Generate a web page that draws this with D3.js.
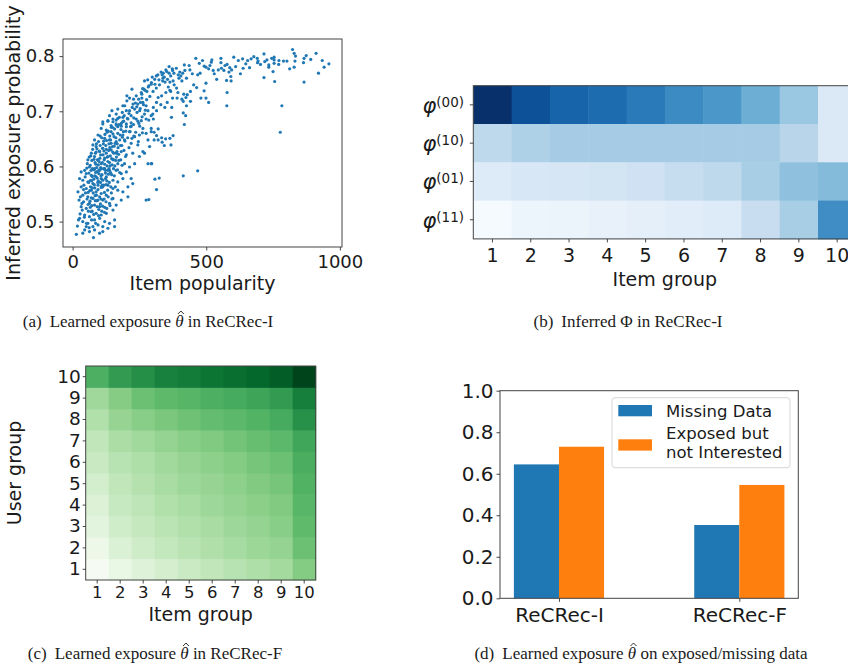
<!DOCTYPE html>
<html>
<head>
<meta charset="utf-8">
<script src="https://cdn.jsdelivr.net/npm/d3@7"></script>
<style>
  body { margin: 0; background: #fff; }
  svg text { font-family: "DejaVu Sans", sans-serif; fill: #1a1a1a; }
  svg text.caption { font-family: "Liberation Serif", serif; font-size: 17px; }
</style>
</head>
<body>
<svg id="fig" width="848" height="669"></svg>
<script>
// (a) item popularity vs inferred exposure probability
const popExposure = [
  [678,.799],[691,.796],[694,.791],[692,.788],[703,.785],[716,.804],[719,.790],[727,.793],[734,.784],[734,.780],
  [745,.796],[754,.798],[754,.793],[754,.787],[772,.792],[771,.785],[789,.791],[802,.791],[750,.772],[716,.761],
  [756,.754],[823,.812],[829,.805],[834,.800],[832,.791],[829,.780],[812,.777],[864,.788],[866,.796],[874,.801],
  [891,.794],[911,.805],[934,.792],[941,.780],[959,.786],[920,.769],[866,.753],[783,.710],[777,.662],
  [648,.786],[655,.792],[662,.779],[668,.795],
  [461,.796],[474,.787],[486,.792],[492,.782],[499,.780],[509,.777],[514,.783],[519,.789],[521,.793],[526,.774],
  [545,.775],[555,.796],[555,.788],[557,.778],[566,.774],[570,.783],[578,.785],[588,.779],[585,.771],[595,.775],
  [603,.798],[620,.792],[636,.795],[638,.778],[576,.756],[592,.763],[593,.755],[539,.758],[499,.751],[477,.769],
  [468,.766],[453,.748],[464,.743],[492,.737],[480,.724],[499,.724],[509,.716],[578,.734],[577,.710],[441,.736],
  [441,.718],[424,.725],[409,.722],[416,.731],[429,.730],[420,.774],[418,.784],[412,.769],[401,.771],[395,.766],
  [405,.764],[398,.760],[409,.755],[426,.760],[439,.775],[374,.774],[361,.769],[339,.769],[335,.766],[313,.764],
  [323,.757],[308,.749],[338,.760],[346,.753],[364,.753],[376,.755],[380,.748],[358,.744],[367,.736],[389,.742],
  [394,.734],[391,.724],[374,.724],[414,.718],[426,.710],[364,.738],[349,.734],[333,.728],[320,.725],[314,.716],
  [302,.707],[345,.707],[354,.716],[371,.707],[314,.701],[302,.686],[370,.689],[414,.697],[423,.692],[418,.676],
  [294,.669],[320,.668],[305,.662],[314,.656],[333,.652],[348,.650],[364,.651],[376,.656],[305,.648],[320,.648],
  [335,.644],[343,.638],[368,.639],[296,.605],[468,.592],[414,.583],[324,.579],[308,.577],[314,.558],
  [269,.755],[285,.746],[294,.749],[267,.740],[257,.734],[278,.736],[222,.740],[238,.728],[259,.724],[228,.722],
  [213,.724],[203,.719],[195,.710],[226,.713],[244,.713],[263,.716],[275,.710],[282,.701],[269,.695],[251,.701],
  [232,.704],[213,.701],[201,.701],[186,.698],[169,.704],[163,.695],[147,.701],[138,.692],[151,.686],[169,.687],
  [188,.689],[207,.686],[219,.692],[238,.686],[257,.683],[275,.686],[294,.692],[113,.677],[132,.683],[144,.674],
  [163,.677],[182,.673],[201,.677],[219,.673],[251,.673],[188,.710],[203,.728],
  [113,.681],[132,.682],[151,.681],[163,.675],[182,.678],[201,.672],[219,.679],[244,.682],[263,.669],[275,.660],
  [107,.669],[126,.666],[144,.663],[169,.660],[188,.657],[213,.663],[232,.654],[250,.657],[282,.648],[95,.657],
  [82,.648],[120,.651],[138,.648],[163,.645],[194,.648],[219,.642],[244,.639],[263,.627],[294,.663],[288,.636],
  [76,.639],[88,.636],[101,.627],[113,.633],[126,.624],[144,.630],[163,.624],[182,.627],[201,.621],[225,.624],
  [250,.618],[269,.624],[282,.605],[294,.605],[70,.624],[82,.618],[95,.612],[107,.605],[120,.615],[132,.609],
  [151,.612],[169,.605],[194,.605],[213,.599],[232,.605],[57,.612],[63,.599],[82,.596],[101,.593],[120,.596],
  [138,.593],[163,.593],[182,.587],[201,.590],[219,.578],[225,.569],[45,.593],[32,.590],[51,.587],[70,.584],
  [88,.581],[107,.578],[126,.581],[151,.575],[169,.572],[188,.578],[207,.563],
  [26,.578],[38,.575],[57,.572],[76,.569],[95,.566],[113,.563],[132,.566],[151,.560],[169,.557],[188,.554],
  [207,.545],[32,.563],[51,.560],[70,.557],[88,.554],[107,.551],[126,.548],[151,.542],[20,.554],[38,.548],
  [57,.545],[76,.542],[95,.539],[113,.539],[138,.533],[182,.539],[163,.530],[24,.539],[41,.536],[63,.533],
  [82,.530],[101,.527],[120,.526],[275,.539],[285,.540],
  [32,.527],[51,.524],[70,.518],[88,.515],[107,.512],[126,.515],[151,.521],[157,.503],[45,.512],[63,.509],
  [82,.503],[101,.506],[120,.500],[138,.497],[26,.506],[38,.500],[57,.497],[76,.491],[95,.494],[113,.491],
  [132,.488],[157,.491],[51,.491],[45,.485],[38,.479],[63,.482],[14,.477],[82,.485],[101,.479],[113,.482],[78,.471],
  [66,.602],[72,.611],[78,.594],[84,.607],[90,.598],[96,.603],[102,.615],[108,.596],[114,.621],[120,.604],
  [126,.631],[132,.618],[138,.607],[144,.642],[150,.626],[156,.637],[60,.571],[67,.563],[73,.582],[79,.577],
  [86,.589],[92,.579],[98,.587],[104,.571],[110,.585],[116,.566],[122,.593],[128,.574],[134,.586],[140,.601],
  [146,.585],[152,.613],[158,.601],[164,.617],[170,.634],[176,.648],[64,.556],[70,.543],[77,.552],[83,.561],
  [89,.548],[95,.558],[101,.545],[107,.562],[113,.575],[119,.553],[125,.567],[131,.557],[137,.571],[143,.563],
  [85,.624],[91,.632],[97,.645],[103,.638],[109,.652],[115,.641],[121,.658],[127,.647],[133,.664],[139,.655],
  [145,.671],[151,.659],[157,.668],[163,.684],[169,.672],[175,.689],[181,.667],[187,.681],[193,.692],[199,.664],
  [205,.687],[211,.696],[217,.672],[223,.707],[229,.688],[235,.715],[241,.698],[247,.722],[253,.705],[259,.731],
  [265,.712],[271,.738],[277,.721],[283,.744],[289,.727],[295,.752],[301,.736],[307,.758],[313,.742],[319,.766],
  [325,.748],[331,.771],[337,.755],[343,.762],[349,.775],[355,.758],[361,.781],[367,.764],[373,.777],[379,.769],
  [42,.566],[47,.581],[53,.597],[58,.553],[61,.588],[68,.619],[71,.574],[74,.596],[80,.613],[81,.567],
  [87,.604],[88,.626],[93,.591],[94,.571],[99,.609],[100,.628],[105,.598],[106,.583],[111,.607],[112,.633],
  [117,.596],[118,.612],[123,.588],[124,.638],[129,.601],[130,.617],[135,.629],[136,.596],[141,.619],[142,.648],
  [148,.603],[149,.636],[154,.624],[155,.654],[161,.611],[167,.641],[172,.622],[178,.657],[184,.638],[190,.663],
  [196,.646],[58,.531],[66,.526],[73,.519],[85,.538],[92,.527],[104,.532],[118,.541],[128,.524],[36,.521],
  [29,.545],[44,.508],[52,.497],[86,.497],[97,.511],[62,.489],[71,.503],[109,.519],[145,.552],[160,.563],
  [176,.589],[185,.602],[198,.618],[211,.634],[222,.651],[236,.662],[248,.678],[260,.690],[272,.702],
  [55,.605],[62,.617],[69,.593],[75,.631],[83,.583],[89,.641],[96,.574],[103,.655],[110,.566],[116,.646],
  [123,.578],[129,.662],[136,.641],[142,.589],[149,.671],[156,.583],[162,.652],[168,.594],[174,.676],[180,.612],
  [186,.653],[192,.629],[48,.552],[54,.541],[59,.519],[65,.537],[72,.529],[79,.513],[84,.547],[91,.538],
  [98,.522],[106,.541],[112,.528],[119,.517],[125,.536],[133,.545],[140,.529],[147,.541],[35,.533],[41,.558],
  [28,.514],[18,.492],[22,.503],[67,.575],[74,.561],[81,.594],[93,.612],[99,.594],[105,.621],[117,.628],
  [131,.593],[139,.634],[146,.614],[153,.596],[159,.642],[166,.627],[173,.611],[179,.638],[191,.682],[206,.652],
  [215,.663],[228,.676],[240,.708],[254,.716],[229,.655],[246,.645],[261,.661],[285,.684],[300,.695],[330,.712],
  [262,.741],[281,.757],[298,.762],[352,.772],[388,.778],[436,.783],[448,.768],[530,.768],[610,.781],[628,.768]
];
const popTicks = [0, 500, 1000];
const probTicks = [0.5, 0.6, 0.7, 0.8];

// (b) inferred Phi, rows phi(00), phi(10), phi(01), phi(11), columns item group 1..10
const itemGroups = [1, 2, 3, 4, 5, 6, 7, 8, 9, 10];
const phiLabels = ['00', '10', '01', '11'];
const phiValues = [
  [1.00, 0.87, 0.80, 0.77, 0.72, 0.65, 0.60, 0.50, 0.38, 0.14],
  [0.27, 0.32, 0.35, 0.35, 0.35, 0.35, 0.35, 0.35, 0.29, 0.14],
  [0.13, 0.16, 0.165, 0.18, 0.20, 0.24, 0.27, 0.34, 0.41, 0.44],
  [0.01, 0.05, 0.06, 0.075, 0.09, 0.11, 0.13, 0.23, 0.34, 0.64]
];

// (c) learned exposure in ReCRec-F, rows user group 1..10, columns item group 1..10
const userGroups = [1, 2, 3, 4, 5, 6, 7, 8, 9, 10];
const exposureGrid = [
  [0.015, 0.09, 0.15, 0.195, 0.235, 0.27, 0.30, 0.33, 0.36, 0.455],
  [0.07, 0.165, 0.215, 0.255, 0.295, 0.325, 0.355, 0.385, 0.41, 0.52],
  [0.125, 0.21, 0.25, 0.29, 0.32, 0.35, 0.38, 0.41, 0.44, 0.55],
  [0.16, 0.245, 0.28, 0.32, 0.35, 0.38, 0.41, 0.435, 0.46, 0.57],
  [0.20, 0.27, 0.31, 0.35, 0.38, 0.40, 0.43, 0.46, 0.49, 0.59],
  [0.24, 0.30, 0.33, 0.37, 0.40, 0.43, 0.455, 0.49, 0.52, 0.61],
  [0.27, 0.34, 0.37, 0.41, 0.44, 0.465, 0.50, 0.53, 0.56, 0.64],
  [0.32, 0.40, 0.44, 0.48, 0.51, 0.54, 0.56, 0.585, 0.62, 0.73],
  [0.375, 0.45, 0.52, 0.555, 0.575, 0.60, 0.62, 0.65, 0.69, 0.80],
  [0.60, 0.69, 0.74, 0.79, 0.81, 0.84, 0.86, 0.89, 0.92, 1.00]
];

// (d) learned exposure on exposed / missing data
const models = ['ReCRec-I', 'ReCRec-F'];
const missingData = [0.645, 0.353];
const exposedNotInterested = [0.730, 0.546];
const barTicks = [0, 0.2, 0.4, 0.6, 0.8, 1.0];
const seriesNames = ['Missing Data', ['Exposed but', 'not Interested']];
const seriesColors = ['#1f77b4', '#ff7f0e'];

const svg = d3.select('#fig');
svg.append('rect').attr('width', 848).attr('height', 669).attr('fill', '#fff');

function styleAxis(g, size) {
  g.select('.domain').remove();
  g.selectAll('.tick line').attr('stroke', '#333').attr('stroke-width', 0.9);
  g.selectAll('.tick text').style('font-size', size + 'px');
}

function frame(x0, y0, x1, y1) {
  svg.append('rect')
    .attr('x', x0).attr('y', y0)
    .attr('width', x1 - x0).attr('height', y1 - y0)
    .attr('fill', 'none').attr('stroke', '#444').attr('stroke-width', 1);
}

// ---------- (a) scatter ----------
const A = { left: 63, right: 342, top: 39, bottom: 247 };
const xA = d3.scaleLinear().domain([-36, 1008]).range([A.left, A.right]);
const yA = d3.scaleLinear().domain([0.454, 0.831]).range([A.bottom, A.top]);

svg.append('g')
  .selectAll('circle')
  .data(popExposure)
  .join('circle')
  .attr('cx', (d) => xA(d[0]))
  .attr('cy', (d) => yA(d[1]))
  .attr('r', 1.6)
  .attr('fill', '#1f77b4');

frame(A.left, A.top, A.right, A.bottom);

svg.append('g')
  .attr('transform', `translate(0,${A.bottom})`)
  .call(d3.axisBottom(xA).tickValues(popTicks).tickFormat(d3.format('d')).tickSize(3.5).tickPadding(4.5))
  .call((g) => styleAxis(g, 18));

svg.append('g')
  .attr('transform', `translate(${A.left},0)`)
  .call(d3.axisLeft(yA).tickValues(probTicks).tickFormat(d3.format('.1f')).tickSize(3.5).tickPadding(5))
  .call((g) => styleAxis(g, 18));

svg.append('text')
  .attr('x', (A.left + A.right) / 2).attr('y', 289.5)
  .attr('text-anchor', 'middle').style('font-size', '19px')
  .text('Item popularity');

svg.append('text')
  .attr('transform', `translate(20,${(A.top + A.bottom) / 2}) rotate(-90)`)
  .attr('text-anchor', 'middle').style('font-size', '19px')
  .text('Inferred exposure probability');

// ---------- (b) Phi heatmap ----------
const B = { left: 473.3, top: 85.7, cell: 38.3 };
const xB = d3.scaleBand().domain(itemGroups).range([B.left, B.left + B.cell * 10]);
const yB = d3.scaleBand().domain(phiLabels).range([B.top, B.top + B.cell * 4]);

phiValues.forEach((row, r) => {
  svg.append('g')
    .selectAll('rect')
    .data(row)
    .join('rect')
    .attr('x', (d, i) => xB(itemGroups[i]))
    .attr('y', yB(phiLabels[r]))
    .attr('width', xB.bandwidth() + 0.5)
    .attr('height', yB.bandwidth() + 0.5)
    .attr('fill', (d) => d3.interpolateBlues(d));
});

frame(B.left, B.top, B.left + B.cell * 10, B.top + B.cell * 4);

svg.append('g')
  .attr('transform', `translate(0,${B.top + B.cell * 4})`)
  .call(d3.axisBottom(xB).tickSize(3.5).tickPadding(6))
  .call((g) => styleAxis(g, 19));

svg.append('g')
  .attr('transform', `translate(${B.left},0)`)
  .call(d3.axisLeft(yB).tickSize(3.5).tickFormat(''))
  .call((g) => styleAxis(g, 19));

phiLabels.forEach((lab) => {
  const cy = yB(lab) + yB.bandwidth() / 2;
  const t = svg.append('text')
    .attr('x', 464).attr('y', cy + 8)
    .attr('text-anchor', 'end');
  t.append('tspan').style('font-style', 'italic').style('font-size', '21px').text('φ');
  t.append('tspan').attr('dy', -6).style('font-size', '13.5px').text(`(${lab})`);
});

svg.append('text')
  .attr('x', B.left + B.cell * 5).attr('y', 286)
  .attr('text-anchor', 'middle').style('font-size', '19px')
  .text('Item group');

// ---------- (c) ReCRec-F heatmap ----------
const C = { left: 85.7, right: 315.7, top: 366, bottom: 580 };
const xC = d3.scaleBand().domain(itemGroups).range([C.left, C.right]);
const yC = d3.scaleBand().domain(userGroups.slice().reverse()).range([C.top, C.bottom]);

exposureGrid.forEach((row, r) => {
  svg.append('g')
    .selectAll('rect')
    .data(row)
    .join('rect')
    .attr('x', (d, i) => xC(itemGroups[i]))
    .attr('y', yC(userGroups[r]))
    .attr('width', xC.bandwidth() + 0.5)
    .attr('height', yC.bandwidth() + 0.5)
    .attr('fill', (d) => d3.interpolateGreens(d));
});

frame(C.left, C.top, C.right, C.bottom);

svg.append('g')
  .attr('transform', `translate(0,${C.bottom})`)
  .call(d3.axisBottom(xC).tickSize(3.5).tickPadding(2.5))
  .call((g) => styleAxis(g, 16.5));

svg.append('g')
  .attr('transform', `translate(${C.left},0)`)
  .call(d3.axisLeft(yC).tickSize(3).tickPadding(2))
  .call((g) => styleAxis(g, 18.5));

svg.append('text')
  .attr('x', (C.left + C.right) / 2).attr('y', 621)
  .attr('text-anchor', 'middle').style('font-size', '19px')
  .text('Item group');

svg.append('text')
  .attr('transform', `translate(21,${(C.top + C.bottom) / 2}) rotate(-90)`)
  .attr('text-anchor', 'middle').style('font-size', '19px')
  .text('User group');

// ---------- (d) bars ----------
const D = { left: 500, right: 798.3, top: 390.7, bottom: 598.3 };
const xD = d3.scaleLinear().domain([-0.327, 1.327]).range([D.left, D.right]);
const yD = d3.scaleLinear().domain([0, 1]).range([D.bottom, D.top]);
const barW = 0.25;

[missingData, exposedNotInterested].forEach((vals, s) => {
  svg.append('g')
    .selectAll('rect')
    .data(vals)
    .join('rect')
    .attr('x', (d, i) => xD(i - barW + s * barW))
    .attr('y', (d) => yD(d))
    .attr('width', xD(barW) - xD(0))
    .attr('height', (d) => yD(0) - yD(d))
    .attr('fill', seriesColors[s]);
});

frame(D.left, D.top, D.right, D.bottom);

svg.append('g')
  .attr('transform', `translate(0,${D.bottom})`)
  .call(d3.axisBottom(xD).tickValues([0, 1]).tickFormat((d) => models[d]).tickSize(3.5).tickPadding(6))
  .call((g) => styleAxis(g, 20));

svg.append('g')
  .attr('transform', `translate(${D.left},0)`)
  .call(d3.axisLeft(yD).tickValues(barTicks).tickFormat(d3.format('.1f')).tickSize(3.5).tickPadding(3))
  .call((g) => styleAxis(g, 20));

// legend
const leg = svg.append('g');
leg.append('rect')
  .attr('x', 612).attr('y', 397.7).attr('width', 178).attr('height', 70)
  .attr('rx', 3).attr('fill', '#fff').attr('fill-opacity', 0.8)
  .attr('stroke', '#d6d6d6');
leg.append('rect').attr('x', 618.3).attr('y', 405).attr('width', 33.7).attr('height', 11.3).attr('fill', seriesColors[0]);
leg.append('rect').attr('x', 618.3).attr('y', 439.3).attr('width', 33.7).attr('height', 11.3).attr('fill', seriesColors[1]);
leg.append('text').attr('x', 666).attr('y', 416.5).style('font-size', '16.5px').text(seriesNames[0]);
leg.append('text').attr('x', 666).attr('y', 439).style('font-size', '16.5px').text(seriesNames[1][0]);
leg.append('text').attr('x', 666).attr('y', 457.5).style('font-size', '16.5px').text(seriesNames[1][1]);

// ---------- captions ----------
function caption(cx, y, tag, before, hatted, after) {
  const t = svg.append('text').attr('class', 'caption')
    .attr('x', cx).attr('y', y).attr('text-anchor', 'middle');
  t.append('tspan').text(tag);
  t.append('tspan').attr('dx', 8).text(before);
  let theta = null;
  if (hatted) theta = t.append('tspan').style('font-style', 'italic').text('θ');
  t.append('tspan').text(after);
  if (theta) {
    // small circumflex drawn over the italic theta
    const box = t.node().getExtentOfChar(tag.length + before.length);
    const hx = box.x + box.width / 2 + 1.5;
    svg.append('path')
      .attr('d', `M${hx - 3},${y - 13} L${hx},${y - 16} L${hx + 3},${y - 13}`)
      .attr('fill', 'none').attr('stroke', '#1a1a1a').attr('stroke-width', 0.9);
  }
}
caption(148, 327, '(a)', 'Learned exposure ', true, ' in ReCRec-I');
caption(628, 327, '(b)', 'Inferred Φ in ReCRec-I', false, '');
caption(155, 659, '(c)', 'Learned exposure ', true, ' in ReCRec-F');
caption(641, 659, '(d)', 'Learned exposure ', true, ' on exposed/missing data');
</script>
</body>
</html>
